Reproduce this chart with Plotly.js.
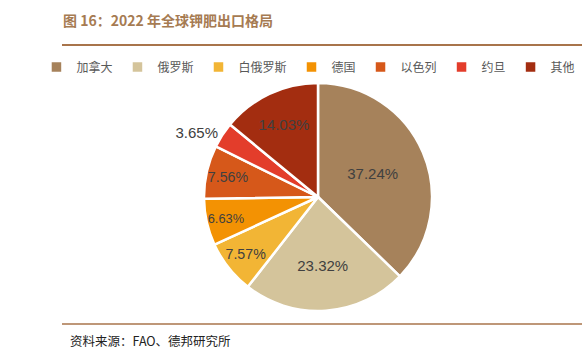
<!DOCTYPE html>
<html><head><meta charset="utf-8">
<script src="https://cdn.plot.ly/plotly-3.0.1.min.js"></script>
<style>body{margin:0;background:#fff}#c{width:582px;height:360px}</style>
</head><body><div id="c"></div>
<script>
const categories = ['加拿大','俄罗斯','白俄罗斯','德国','以色列','约旦','其他'];
const shares = [37.24, 23.32, 7.57, 6.63, 7.56, 3.65, 14.03];
const colors = ['#A6825B','#D4C49B','#F2B535','#F39203','#D6581A','#E33D2B','#A32D10'];
const textPositions = ['inside','inside','inside','inside','inside','outside','inside'];
const titleText = '图 16：2022 年全球钾肥出口格局';
const sourceText = '资料来源：FAO、德邦研究所';

const trace = {
  type: 'pie',
  labels: categories,
  values: shares,
  sort: false,
  direction: 'clockwise',
  rotation: 0,
  marker: {colors: colors, line: {color: '#ffffff', width: 2.5}},
  texttemplate: '%{value:.2f}%',
  textinfo: 'text',
  textposition: textPositions,
  insidetextorientation: 'horizontal',
  insidetextfont: {family: 'Liberation Sans, Arial, sans-serif', size: 15, color: '#404040'},
  outsidetextfont: {family: 'Liberation Sans, Arial, sans-serif', size: 15, color: '#404040'},
  hoverinfo: 'none',
  domain: {x: [204/582, 432/582], y: [1-311/360, 1-83/360]}
};

const layout = {
  width: 582, height: 360,
  margin: {l: 0, r: 0, t: 0, b: 0},
  paper_bgcolor: '#ffffff',
  showlegend: true,
  legend: {
    orientation: 'h', x: 0.53, xanchor: 'center', y: 1-67/360, yanchor: 'middle',
    font: {family: 'Noto Sans CJK SC, sans-serif', size: 12, color: '#595959'},
    itemwidth: 30, traceorder: 'normal', bgcolor: 'rgba(0,0,0,0)'
  },
  title: {
    text: '<b>' + titleText + '</b>',
    x: 63/582, xanchor: 'left', xref: 'paper',
    y: 1-21/360, yanchor: 'middle', yref: 'container',
    font: {family: 'Noto Sans CJK SC, sans-serif', size: 14, color: '#A67B52'}
  },
  shapes: [
    {type: 'line', xref: 'paper', yref: 'paper', x0: 62/582, x1: 1, y0: 1-45/360, y1: 1-45/360, line: {color: '#A8744B', width: 2}},
    {type: 'line', xref: 'paper', yref: 'paper', x0: 62/582, x1: 1, y0: 1-324/360, y1: 1-324/360, line: {color: '#A8744B', width: 1.5}}
  ],
  annotations: [
    {text: sourceText, xref: 'paper', yref: 'paper', x: 68/582, xanchor: 'left', y: 1-340/360, yanchor: 'middle', showarrow: false,
     font: {family: 'Noto Sans CJK SC, sans-serif', size: 12.5, color: '#222222'}}
  ]
};

Plotly.newPlot('c', [trace], layout, {staticPlot: true, displayModeBar: false});
</script></body></html>
